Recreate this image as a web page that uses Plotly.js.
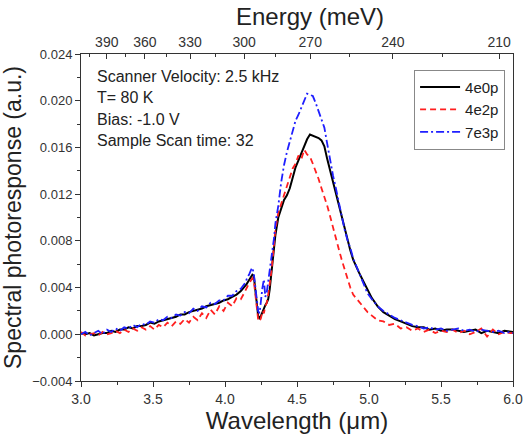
<!DOCTYPE html>
<html>
<head>
<meta charset="utf-8">
<script src="https://cdn.plot.ly/plotly-3.0.1.min.js"></script>
<style>html,body{margin:0;padding:0;background:#fff;}#chart{width:525px;height:436px;}</style>
</head>
<body>
<div id="chart"></div>
<script>
// Wavelength grid (µm)
const wavelength = [
  3.00,3.03,3.06,3.09,3.12,3.15,3.18,3.21,3.24,3.27,3.30,3.33,3.36,3.39,3.42,3.45,3.48,3.51,3.54,3.57,
  3.60,3.63,3.66,3.69,3.72,3.75,3.78,3.81,3.84,3.87,3.90,3.93,3.96,3.99,4.02,4.05,4.08,4.11,4.14,
  4.15,4.16,4.17,4.18,4.19,4.20,4.21,4.22,4.23,4.24,4.25,4.26,4.27,4.28,4.29,4.30,4.31,4.32,4.33,4.34,4.35,
  4.37,4.39,4.41,4.43,4.45,4.47,4.49,4.51,4.53,4.55,4.57,4.59,4.61,4.63,4.65,4.67,4.69,4.71,4.73,4.75,
  4.77,4.79,4.81,4.83,4.85,4.87,4.89,4.91,4.93,4.95,4.97,4.99,
  5.02,5.06,5.10,5.14,5.18,5.22,5.26,5.30,5.34,5.38,5.42,5.46,5.50,5.54,5.58,5.62,5.66,5.70,5.74,5.78,
  5.82,5.86,5.90,5.94,5.98,6.00
];

const s4e0p = [
  0.0001,0.0000,0.0001,-0.0001,0.0000,0.0001,0.0001,0.0003,0.0002,0.0004,0.0004,0.0006,0.0005,0.0007,0.0007,0.0008,0.0010,0.0009,0.0011,0.0012,
  0.0013,0.0014,0.0015,0.0017,0.0017,0.0019,0.0020,0.0021,0.0022,0.0024,0.0025,0.0026,0.0027,0.0029,0.0030,0.0032,0.0034,0.0037,0.0041,
  0.0043,0.0045,0.0047,0.0049,0.0051,0.0050,0.0040,0.0025,0.0016,0.0013,0.0016,0.0020,0.0023,0.0025,0.0027,0.0030,0.0038,0.0050,0.0063,0.0075,0.0085,
  0.0100,0.0108,0.0115,0.0119,0.0125,0.0134,0.0143,0.0149,0.0155,0.0160,0.0167,0.0171,0.0170,0.0169,0.0168,0.0166,0.0161,0.0150,0.0140,0.0131,
  0.0121,0.0112,0.0102,0.0091,0.0081,0.0072,0.0064,0.0058,0.0053,0.0048,0.0043,0.0038,
  0.0031,0.0024,0.0019,0.0016,0.0013,0.0011,0.0009,0.0007,0.0006,0.0006,0.0004,0.0005,0.0003,0.0004,0.0004,0.0003,0.0002,0.0003,0.0004,0.0001,
  0.0003,0.0002,0.0001,0.0003,0.0002,0.0002
];

const s4e2p = [
  0.0002,-0.0001,0.0000,0.0001,-0.0001,0.0002,0.0000,0.0001,0.0003,0.0001,0.0004,0.0002,0.0005,0.0003,0.0006,0.0004,0.0007,0.0004,0.0008,0.0006,
  0.0010,0.0007,0.0011,0.0009,0.0013,0.0010,0.0015,0.0012,0.0018,0.0014,0.0021,0.0017,0.0024,0.0020,0.0027,0.0024,0.0031,0.0030,0.0037,
  0.0040,0.0042,0.0044,0.0046,0.0048,0.0046,0.0035,0.0021,0.0013,0.0011,0.0014,0.0020,0.0018,0.0024,0.0027,0.0034,0.0042,0.0052,0.0063,0.0075,0.0090,
  0.0104,0.0112,0.0120,0.0127,0.0134,0.0142,0.0146,0.0153,0.0150,0.0158,0.0154,0.0152,0.0146,0.0140,0.0133,0.0125,0.0118,0.0110,0.0101,0.0091,
  0.0082,0.0073,0.0064,0.0056,0.0047,0.0040,0.0034,0.0031,0.0027,0.0025,0.0021,0.0019,
  0.0016,0.0012,0.0011,0.0008,0.0009,0.0005,0.0006,0.0003,0.0005,0.0002,0.0004,0.0001,0.0003,0.0002,0.0004,0.0001,0.0003,0.0000,0.0002,0.0005,
  -0.0002,0.0004,0.0000,0.0002,0.0001,0.0001
];

const s7e3p = [
  0.0000,0.0002,-0.0001,0.0001,0.0003,0.0000,0.0004,0.0002,0.0005,0.0003,0.0006,0.0005,0.0008,0.0006,0.0009,0.0008,0.0011,0.0010,0.0013,0.0012,
  0.0015,0.0014,0.0017,0.0016,0.0019,0.0018,0.0022,0.0020,0.0024,0.0023,0.0027,0.0026,0.0029,0.0029,0.0033,0.0033,0.0037,0.0039,0.0044,
  0.0047,0.0049,0.0052,0.0055,0.0057,0.0052,0.0040,0.0026,0.0020,0.0018,0.0030,0.0040,0.0047,0.0032,0.0036,0.0045,0.0055,0.0063,0.0072,0.0082,0.0095,
  0.0110,0.0130,0.0145,0.0156,0.0165,0.0174,0.0183,0.0188,0.0194,0.0200,0.0206,0.0205,0.0204,0.0198,0.0191,0.0184,0.0177,0.0163,0.0148,0.0136,
  0.0125,0.0113,0.0101,0.0090,0.0081,0.0074,0.0065,0.0059,0.0052,0.0046,0.0041,0.0035,
  0.0030,0.0024,0.0020,0.0017,0.0014,0.0012,0.0010,0.0008,0.0007,0.0005,0.0006,0.0004,0.0005,0.0003,0.0004,0.0005,0.0003,0.0004,0.0002,0.0004,
  0.0003,0.0002,0.0003,0.0001,0.0002,0.0001
];

const seriesNames = ['4e0p','4e2p','7e3p'];
const energyMajor = [390,360,330,300,270,240,210];
const energyMinor = [405,375,345,315,285,255,225];
const infoLines = ['Scanner Velocity: 2.5 kHz','T= 80 K','Bias: -1.0 V','Sample Scan time: 32'];

const FONT = 'Liberation Sans, Arial, sans-serif';
const toWl = E => 1239.84 / E;

const traces = [
  {x: wavelength, y: s4e0p, name: seriesNames[0], mode: 'lines', line: {color: '#000000', width: 2}},
  {x: wavelength, y: s4e2p, name: seriesNames[1], mode: 'lines', line: {color: '#ff1f1f', width: 1.8, dash: '6px,4px'}},
  {x: wavelength, y: s7e3p, name: seriesNames[2], mode: 'lines', line: {color: '#1f1fff', width: 1.8, dash: '8px,3px,2px,3px'}},
  // invisible carriers so the top (energy) axes are drawn
  {x: wavelength, y: s4e0p, xaxis: 'x2', mode: 'lines', opacity: 0, showlegend: false, hoverinfo: 'skip', line: {width: 0}},
  {x: wavelength, y: s4e0p, xaxis: 'x3', mode: 'lines', opacity: 0, showlegend: false, hoverinfo: 'skip', line: {width: 0}}
];

const layout = {
  width: 525, height: 436,
  margin: {l: 81, r: 12, t: 54, b: 55},
  paper_bgcolor: '#ffffff', plot_bgcolor: '#ffffff',
  font: {family: FONT, color: '#222'},
  showlegend: true,
  legend: {
    x: 0.771, y: 0.952, xanchor: 'left', yanchor: 'top',
    bordercolor: '#888', borderwidth: 1, bgcolor: '#ffffff',
    font: {family: FONT, size: 15, color: '#222'},
    tracegroupgap: 0, itemwidth: 40
  },
  xaxis: {
    range: [3, 6], dtick: 0.5, tick0: 3, tickformat: '.1f',
    ticks: 'outside', ticklen: 5, tickwidth: 1, tickcolor: '#333',
    minor: {dtick: 0.25, ticks: 'outside', ticklen: 3, tickcolor: '#333'},
    showline: true, linecolor: '#333', linewidth: 1, mirror: false,
    showgrid: false, zeroline: false,
    tickfont: {family: FONT, size: 14, color: '#333'},
    title: {text: 'Wavelength (\u03bcm)', font: {family: FONT, size: 24, color: '#222'}, standoff: 2}
  },
  xaxis2: {
    overlaying: 'x', side: 'top', anchor: 'y', range: [3, 6],
    tickmode: 'array', tickvals: energyMajor.map(toWl), ticktext: energyMajor.map(String),
    ticks: 'inside', ticklen: 5, tickwidth: 1, tickcolor: '#333',
    showline: true, linecolor: '#333', linewidth: 1,
    showgrid: false, zeroline: false,
    tickfont: {family: FONT, size: 14, color: '#333'}
  },
  xaxis3: {
    overlaying: 'x', side: 'top', anchor: 'y', range: [3, 6],
    tickmode: 'array', tickvals: energyMinor.map(toWl), showticklabels: false,
    ticks: 'inside', ticklen: 3, tickwidth: 1, tickcolor: '#333',
    showline: false, showgrid: false, zeroline: false
  },
  yaxis: {
    range: [-0.004, 0.024], dtick: 0.004, tick0: 0, tickformat: '.3f',
    ticks: 'outside', ticklen: 5, tickwidth: 1, tickcolor: '#333',
    minor: {dtick: 0.002, ticks: 'outside', ticklen: 3, tickcolor: '#333'},
    showline: true, linecolor: '#333', linewidth: 1, mirror: true,
    showgrid: false, zeroline: false,
    tickfont: {family: FONT, size: 13, color: '#333'},
    title: {text: 'Spectral photoresponse (a.u.)', font: {family: FONT, size: 23, color: '#222'}, standoff: 6}
  },
  annotations: infoLines.map((t, i) => ({
    xref: 'paper', yref: 'paper', x: 0.033, y: 0.932 - i * 0.066,
    xanchor: 'left', yanchor: 'middle', showarrow: false, align: 'left',
    text: t, font: {family: FONT, size: 16, color: '#222'}
  })).concat([{
    xref: 'paper', yref: 'paper', x: 0.53, y: 1.116,
    xanchor: 'center', yanchor: 'middle', showarrow: false,
    text: 'Energy (meV)', font: {family: FONT, size: 24, color: '#222'}
  }])
};

Plotly.newPlot('chart', traces, layout, {displayModeBar: false, staticPlot: true});
</script>
</body>
</html>
